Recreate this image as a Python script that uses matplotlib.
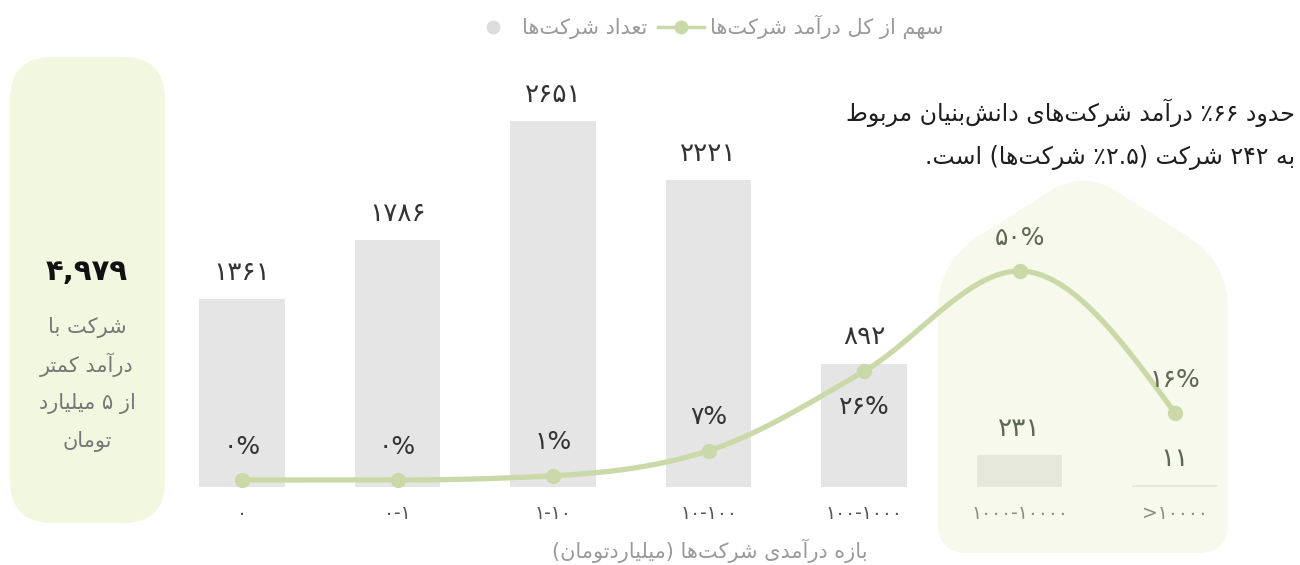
import re
import numpy as np
import matplotlib
matplotlib.use("Agg")
import matplotlib.pyplot as plt
from matplotlib.path import Path
from matplotlib.patches import PathPatch
from matplotlib.lines import Line2D

plt.rcParams['font.family'] = ['DejaVu Sans']

# داده‌ها
categories = ["۰", "۰-۱", "۱-۱۰", "۱۰-۱۰۰", "۱۰۰-۱۰۰۰", "۱۰۰۰-۱۰۰۰۰", "\u003e۱۰۰۰۰"]
counts = [1361, 1786, 2651, 2221, 892, 231, 11]
shares = [0, 0, 1, 7, 26, 50, 16]
total_small = 4979

legend_share = "سهم از کل درآمد شرکت‌ها"
legend_count = "تعداد شرکت‌ها"
x_title = "بازه درآمدی شرکت‌ها (میلیاردتومان)"
note_lines = ["حدود ۶۶٪ درآمد شرکت‌های دانش‌بنیان مربوط",
              "به ۲۴۲ شرکت (۲.۵٪ شرکت‌ها) است."]
panel_lines = ["شرکت با", "درآمد کمتر", "از ۵ میلیارد", "تومان"]

# --- شکل‌دهی ساده‌ی حروف فارسی (matplotlib خودش این کار را نمی‌کند) ---
DUAL = {'ب': 0xFE8F, 'پ': 0xFB56, 'ت': 0xFE95, 'ث': 0xFE99, 'ج': 0xFE9D,
        'چ': 0xFB7A, 'ح': 0xFEA1, 'خ': 0xFEA5, 'س': 0xFEB1, 'ش': 0xFEB5,
        'ص': 0xFEB9, 'ض': 0xFEBD, 'ط': 0xFEC1, 'ظ': 0xFEC5, 'ع': 0xFEC9,
        'غ': 0xFECD, 'ف': 0xFED1, 'ق': 0xFED5, 'ک': 0xFB8E, 'گ': 0xFB92,
        'ل': 0xFEDD, 'م': 0xFEE1, 'ن': 0xFEE5, 'ه': 0xFEE9, 'ی': 0xFBFC}
RIGHT = {'ا': 0xFE8D, 'آ': 0xFE81, 'د': 0xFEA9, 'ذ': 0xFEAB, 'ر': 0xFEAD,
         'ز': 0xFEAF, 'ژ': 0xFB8A, 'و': 0xFEED}
MIRROR = str.maketrans("()", ")(")


def fa(s):
    out = ""
    for i, ch in enumerate(s):
        if ch in DUAL or ch in RIGHT:
            prev = s[i - 1] if i > 0 else ""
            nxt = s[i + 1] if i + 1 < len(s) else ""
            a = prev in DUAL
            b = ch in DUAL and (nxt in DUAL or nxt in RIGHT)
            base = DUAL.get(ch, RIGHT.get(ch))
            out += chr(base + [[0, 2], [1, 3]][a][b])
        elif ch != "\u200c":
            out += ch
    tokens = re.findall(r"[۰-۹][۰-۹.,]*[۰-۹]|.", out)
    return "".join(tokens[::-1]).translate(MIRROR)


def fa_num(n):
    return str(n).translate(str.maketrans("0123456789", "۰۱۲۳۴۵۶۷۸۹"))


def rounded(pts, radii):
    verts, codes = [], []
    n = len(pts)
    for i in range(n):
        p0, p1, p2 = np.array(pts[i - 1], float), np.array(pts[i], float), np.array(pts[(i + 1) % n], float)
        d0 = (p0 - p1) / np.linalg.norm(p0 - p1)
        d2 = (p2 - p1) / np.linalg.norm(p2 - p1)
        verts += [p1 + d0 * radii[i], p1, p1 + d2 * radii[i]]
        codes += [Path.MOVETO if i == 0 else Path.LINETO, Path.CURVE3, Path.CURVE3]
    verts.append(verts[0])
    codes.append(Path.CLOSEPOLY)
    return Path(verts, codes)


def monotone(x, y, n=40):
    x = np.asarray(x, float)
    y = np.asarray(y, float)
    h = np.diff(x)
    s = np.diff(y) / h
    m = np.zeros_like(y)
    for i in range(1, len(y) - 1):
        p = (s[i - 1] * h[i] + s[i] * h[i - 1]) / (h[i - 1] + h[i])
        m[i] = (np.sign(s[i - 1]) + np.sign(s[i])) * min(abs(s[i - 1]), abs(s[i]), 0.5 * abs(p))
    m[0] = (3 * s[0] - m[1]) / 2
    m[-1] = (3 * s[-1] - m[-2]) / 2
    xs, ys = [], []
    for i in range(len(h)):
        t = np.linspace(0, 1, n)
        h00 = 2 * t**3 - 3 * t**2 + 1
        h10 = t**3 - 2 * t**2 + t
        h01 = -2 * t**3 + 3 * t**2
        h11 = t**3 - t**2
        xs.append(x[i] + t * h[i])
        ys.append(h00 * y[i] + h10 * h[i] * m[i] + h01 * y[i + 1] + h11 * h[i] * m[i + 1])
    return np.concatenate(xs), np.concatenate(ys)


W, H = 1300, 565
fig = plt.figure(figsize=(W / 100, H / 100), dpi=100)

# لایه‌ی پس‌زمینه با مختصات پیکسلی
bg = fig.add_axes([0, 0, 1, 1])
bg.set_xlim(0, W)
bg.set_ylim(H, 0)
bg.axis("off")

panel = rounded([(10, 523), (10, 57), (165, 57), (165, 523)], [42, 42, 42, 42])
bg.add_patch(PathPatch(panel, fc="#f2f7df", ec="none"))
house = rounded([(938, 553), (938, 262), (1083, 170), (1228, 262), (1228, 553)],
                [30, 48, 40, 48, 30])
bg.add_patch(PathPatch(house, fc="#f6f9ec", ec="none"))

bg.text(87, 272, fa_num("{:,}".format(total_small)), ha="center", va="center",
        fontsize=21, fontweight="bold", color="#111111")
for k, line in enumerate(panel_lines):
    bg.text(87, 327 + 38 * k, fa(line), ha="center", va="center", fontsize=15, color="#777777")

for k, line in enumerate(note_lines):
    bg.text(1295, 113 + 44 * k, fa(line), ha="right", va="center", fontsize=17, color="#1e1e1e")

bg.text(710, 551, fa(x_title), ha="center", va="center", fontsize=15, color="#9a9a9a")

# نمودار اصلی
ax = fig.add_axes([164.25 / W, (H - 487) / H, 1088.5 / W, (487 - 57) / H])
ax.patch.set_alpha(0)
x = np.arange(len(categories))
inside = [i >= 5 for i in x]
bar_colors = ["#e6e8dc" if f else "#e5e5e5" for f in inside]
ax.bar(x, counts, width=0.553, color=bar_colors, zorder=1)
ax.set_xlim(-0.5, len(categories) - 0.5)
ax.set_ylim(0, 3114.6)
for sp in ax.spines.values():
    sp.set_visible(False)
ax.set_yticks([])
ax.set_xticks(x)
ax.set_xticklabels(categories, fontsize=13.5)
ax.tick_params(axis="x", length=0, pad=12)
for lab, f in zip(ax.get_xticklabels(), inside):
    lab.set_color("#8b8f84" if f else "#555555")

for xi, c, f in zip(x, counts, inside):
    ax.annotate(fa_num(c), (xi, c), xytext=(0, 19), textcoords="offset points",
                ha="center", va="center", fontsize=19,
                color="#5f6753" if f else "#333333")

ax2 = ax.twinx()
ax2.set_ylim(-1.675, 101.2)
ax2.axis("off")
cx, cy = monotone(x, shares)
green = "#cad9a8"
ax2.plot(cx, cy, color=green, lw=3.8, solid_capstyle="round", zorder=3)
ax2.plot(x, shares, "o", color=green, ms=10, zorder=4)

pct_below = [False, False, False, False, True, False, False]
for xi, s, below, f in zip(x, shares, pct_below, inside):
    ax2.annotate(fa_num(s) + "%", (xi, s), xytext=(0, -26 if below else 24),
                 textcoords="offset points", ha="center", va="center", fontsize=18,
                 color="#5f6753" if f else "#333333")

# راهنما
handles = [Line2D([], [], ls="none", marker="o", ms=9, color="#dddddd"),
           Line2D([], [], color=green, lw=2.5, marker="o", ms=9)]
fig.legend(handles, [fa(legend_count), fa(legend_share)], loc="center",
           bbox_to_anchor=(707 / W, 1 - 27 / H), ncol=2, frameon=False,
           fontsize=15, labelcolor="#9a9a9a", handlelength=2.2, columnspacing=0.5,
           handletextpad=0.3)

fig.savefig("out.png", dpi=100)
